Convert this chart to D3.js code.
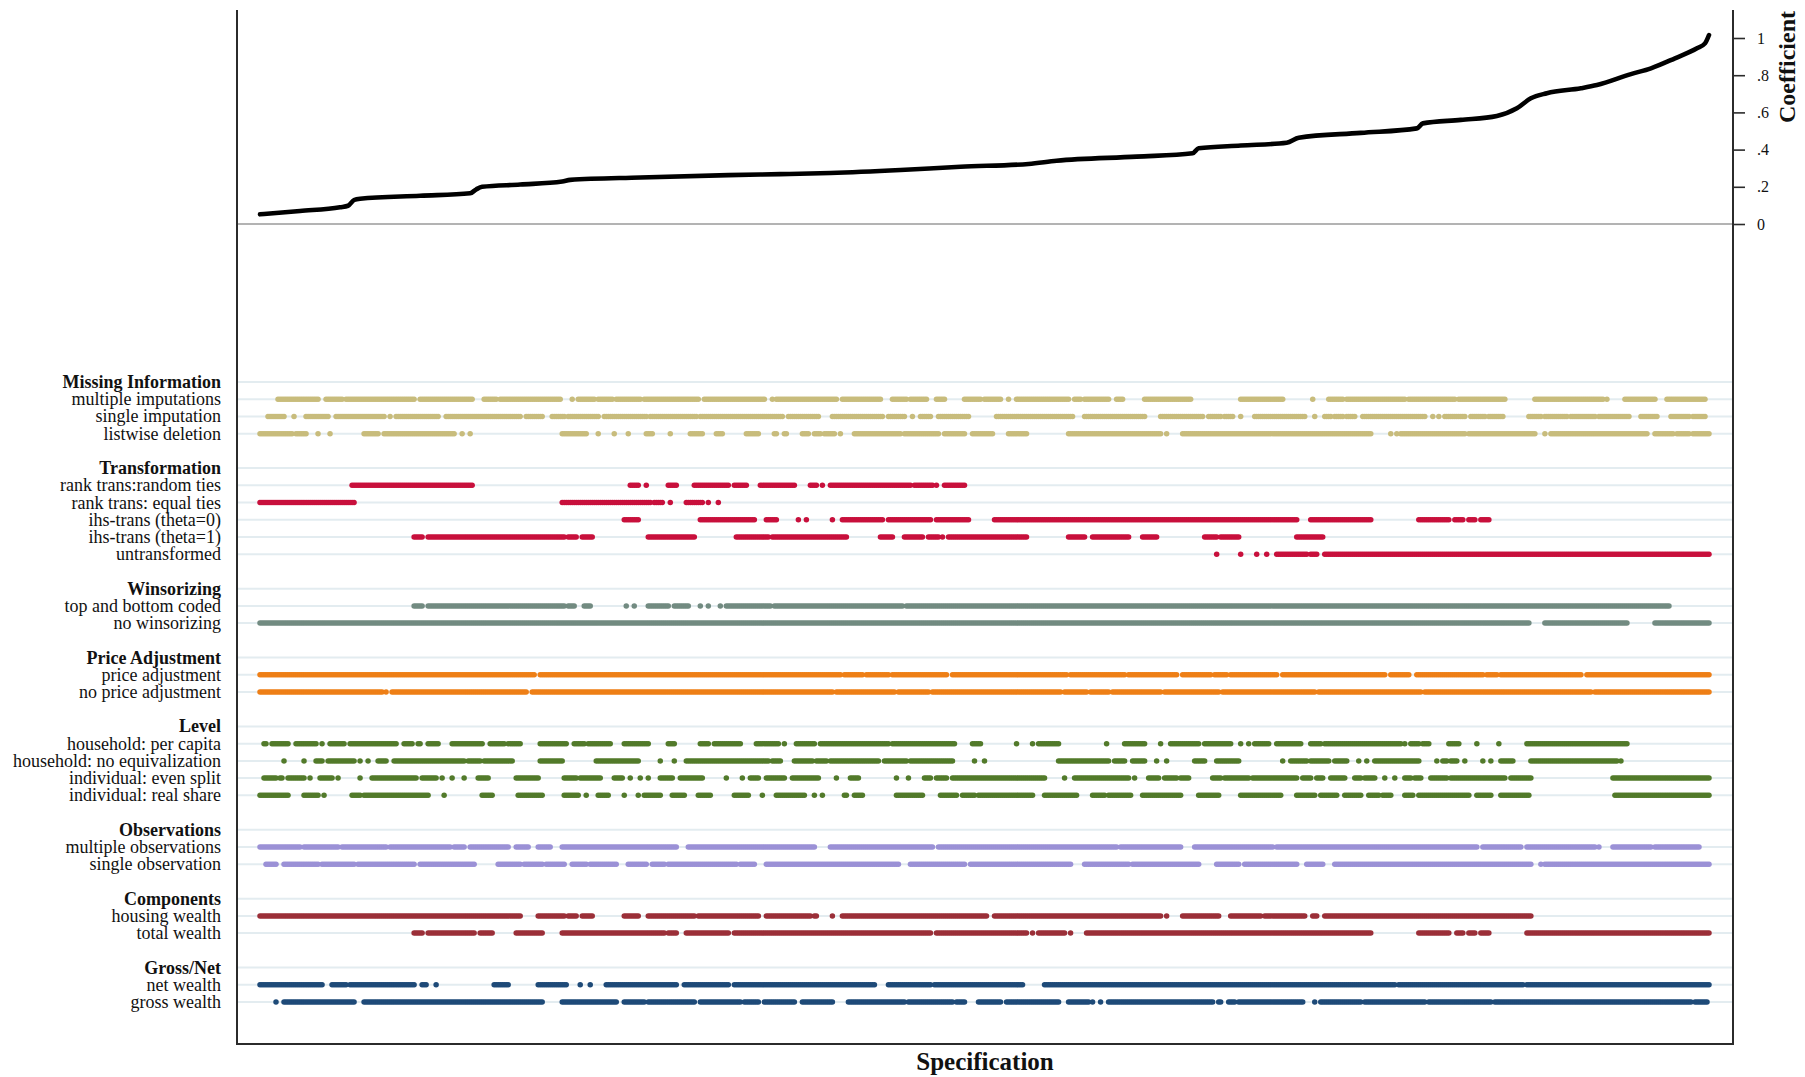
<!DOCTYPE html>
<html>
<head>
<meta charset="utf-8">
<script src="https://cdn.jsdelivr.net/npm/d3@7"></script>
<style>
  html, body { margin: 0; padding: 0; background: #fff; }
  svg { display: block; }
  text { font-family: "Liberation Serif", "Times New Roman", serif; fill: #111; }
</style>
</head>
<body>
<svg id="chart" width="1805" height="1077"></svg>
<script>
// ---------------------------------------------------------------
// Specification curve: estimated coefficient for each specification,
// sorted by size, with the analytic choices behind each one below.
// ---------------------------------------------------------------

const specCount = 725;

// coefficient curve, read at selected ranks of the sorted specifications
const specRank = [0, 20, 40, 44, 47, 50, 80, 105, 108, 111, 130, 151, 155, 190, 234, 260, 285, 320, 350,
  384, 398, 438, 466, 469, 490, 513, 519, 550, 578, 581, 600, 618, 628, 635, 643, 660, 668, 685, 695,
  707, 718, 722, 724];
const coefficient = [0.052, 0.070, 0.090, 0.098, 0.129, 0.136, 0.152, 0.165, 0.186, 0.200, 0.212, 0.228,
  0.237, 0.250, 0.263, 0.268, 0.274, 0.290, 0.308, 0.323, 0.340, 0.362, 0.380, 0.407, 0.422, 0.437,
  0.464, 0.490, 0.514, 0.541, 0.560, 0.581, 0.622, 0.676, 0.703, 0.730, 0.747, 0.806, 0.837, 0.891,
  0.945, 0.971, 1.016];

const coefTicks = [0, 0.2, 0.4, 0.6, 0.8, 1];

// group titles
const groupNames = ["Missing Information", "Transformation", "Winsorizing", "Price Adjustment",
  "Level", "Observations", "Components", "Gross/Net"];

// choices within each group; runs are [first, last] specification ranks using that choice
const missingLabels = ["multiple imputations", "single imputation", "listwise deletion"];
const missingRuns = [
  [[9,29],[33,41],[43,77],[80,106],[112,118],[120,150],[156,156],[159,167],[169,176],[178,190],[192,219],[222,252],[256,256],[258,288],[291,310],[316,323],[325,333],[338,342],[352,360],[362,370],[374,374],[378,404],[407,410],[412,424],[428,431],[442,465],[490,511],[526,526],[534,541],[543,572],[574,597],[599,622],[637,671],[673,673],[682,697],[703,722]],
  [[4,12],[17,17],[23,34],[38,62],[65,65],[68,89],[93,116],[117,130],[133,141],[146,152],[154,169],[172,193],[195,218],[220,247],[248,261],[264,279],[286,311],[314,322],[326,326],[330,335],[339,354],[368,375],[376,392],[393,406],[412,442],[450,471],[474,480],[482,486],[490,490],[497,522],[527,527],[532,535],[537,541],[543,547],[551,582],[586,586],[589,589],[592,602],[605,612],[614,621],[634,640],[642,653],[655,667],[669,684],[690,698],[705,714],[716,722]],
  [[0,9],[10,16],[18,23],[29,29],[35,35],[52,59],[62,71],[72,97],[101,101],[105,105],[151,163],[169,169],[177,177],[184,184],[193,196],[205,205],[215,221],[228,231],[243,249],[257,258],[262,263],[271,274],[277,280],[282,287],[290,290],[297,320],[322,339],[342,352],[356,366],[374,383],[404,414],[415,437],[438,450],[453,453],[461,502],[503,555],[565,565],[568,568],[570,602],[604,617],[618,637],[642,642],[645,658],[659,693],[697,706],[708,714],[716,724]]
];

const transformLabels = ["rank trans:random ties", "rank trans: equal ties", "ihs-trans (theta=0)",
  "ihs-trans (theta=1)", "untransformed"];
const transformRuns = [
  [[46,106],[185,189],[193,193],[204,208],[217,234],[237,243],[250,267],[275,278],[281,281],[285,291],[292,320],[321,325],[327,336],[338,338],[342,352]],
  [[0,47],[151,195],[197,201],[205,205],[213,221],[224,224],[229,229]],
  [[182,189],[220,241],[242,247],[253,258],[269,269],[273,273],[286,286],[291,311],[314,323],[324,335],[338,354],[367,518],[525,555],[579,594],[597,601],[604,607],[610,614]],
  [[77,81],[84,152],[154,158],[161,166],[194,205],[206,217],[238,254],[256,293],[310,316],[322,331],[334,339],[341,341],[344,352],[353,378],[379,383],[404,412],[416,434],[441,448],[472,478],[480,489],[518,531]],
  [[478,478],[490,490],[498,498],[503,503],[508,523],[525,528],[532,724]]
];

const winsorLabels = ["top and bottom coded", "no winsorizing"];
const winsorRuns = [
  [[77,81],[84,152],[154,157],[162,165],[183,183],[187,187],[194,204],[207,214],[220,220],[224,224],[230,230],[233,255],[257,297],[298,321],[323,333],[334,569],[570,649],[650,704]],
  [[0,634],[642,683],[697,724]]
];

const priceLabels = ["price adjustment", "no price adjustment"];
const priceRuns = [
  [[0,137],[140,290],[292,301],[303,314],[316,343],[346,373],[374,397],[398,403],[405,432],[434,440],[441,458],[461,467],[468,475],[477,483],[485,501],[502,508],[511,562],[565,574],[578,611],[613,618],[620,660],[663,724]],
  [[0,61],[63,63],[66,85],[86,133],[136,249],[250,266],[267,280],[281,286],[288,317],[319,334],[336,400],[402,413],[415,424],[426,450],[452,472],[473,479],[481,493],[494,507],[508,527],[529,546],[547,580],[582,607],[608,665],[667,724]]
];

const levelLabels = ["household: per capita", "household: no equivalization", "individual: even split",
  "individual: real share"];
const levelRuns = [
  [[2,3],[6,14],[18,28],[31,31],[35,42],[45,68],[72,76],[79,80],[84,89],[96,111],[115,122],[124,130],[140,153],[157,162],[164,175],[182,194],[204,207],[220,224],[227,240],[248,259],[262,262],[268,277],[280,293],[294,314],[316,347],[356,360],[378,378],[386,386],[389,399],[423,423],[432,442],[450,450],[455,469],[472,485],[490,490],[494,494],[497,504],[508,520],[525,530],[532,561],[562,566],[567,570],[572,572],[575,579],[581,584],[594,599],[608,608],[619,619],[633,683]],
  [[12,12],[22,22],[28,31],[34,47],[50,50],[54,54],[59,63],[67,102],[104,110],[112,117],[118,126],[140,151],[168,189],[200,200],[207,207],[213,254],[256,260],[267,276],[278,283],[285,309],[312,323],[325,346],[357,357],[362,362],[399,424],[427,432],[436,442],[448,448],[453,453],[467,472],[478,489],[511,511],[515,523],[525,534],[537,543],[549,549],[553,553],[557,579],[588,588],[591,593],[595,598],[602,602],[611,611],[615,615],[620,626],[635,678],[680,680]],
  [[2,8],[10,11],[14,22],[25,25],[30,36],[39,39],[50,50],[56,78],[81,88],[91,91],[96,96],[102,102],[109,114],[128,139],[152,158],[160,170],[177,181],[185,185],[190,190],[194,194],[200,206],[210,221],[233,233],[241,241],[245,249],[253,262],[266,279],[288,288],[295,299],[318,318],[324,324],[332,335],[338,343],[346,392],[402,402],[407,434],[437,437],[444,449],[452,458],[460,464],[476,480],[482,494],[496,500],[501,518],[521,525],[528,531],[535,542],[547,550],[552,557],[562,562],[567,567],[572,575],[577,580],[585,593],[595,622],[625,635],[676,679],[680,703],[704,724]],
  [[0,14],[22,29],[32,32],[46,50],[52,64],[65,76],[77,84],[92,92],[111,116],[129,141],[152,159],[163,163],[169,174],[182,182],[189,189],[192,200],[206,212],[219,225],[237,244],[251,251],[258,272],[277,277],[281,281],[292,293],[297,301],[318,331],[340,348],[351,357],[359,386],[392,408],[416,422],[424,435],[441,460],[469,479],[490,510],[518,527],[530,538],[542,550],[554,559],[561,565],[572,576],[579,604],[608,615],[620,634],[677,724]]
];

const obsLabels = ["multiple observations", "single observation"];
const obsRuns = [
  [[0,20],[22,39],[41,63],[65,95],[97,102],[105,124],[128,134],[139,145],[151,190],[191,208],[214,277],[285,336],[339,381],[382,398],[399,428],[430,460],[467,506],[508,608],[611,630],[633,667],[669,669],[676,695],[697,719]],
  [[3,8],[12,29],[31,47],[49,77],[80,107],[119,130],[132,141],[143,152],[156,163],[165,178],[184,193],[196,202],[204,234],[235,238],[240,247],[253,307],[308,319],[325,352],[355,405],[412,423],[424,434],[436,469],[478,489],[492,518],[523,531],[537,572],[573,579],[580,590],[591,635],[640,640],[642,658],[659,683],[684,724]]
];

const compLabels = ["housing wealth", "total wealth"];
const compRuns = [
  [[0,130],[139,152],[154,158],[161,166],[182,189],[194,205],[206,217],[219,249],[253,275],[277,278],[286,286],[291,363],[367,450],[453,453],[461,479],[485,500],[502,522],[526,528],[532,635]],
  [[77,81],[84,107],[110,116],[128,141],[151,196],[197,202],[204,208],[213,234],[237,335],[338,383],[386,386],[389,402],[405,405],[413,517],[518,555],[579,594],[598,601],[604,607],[610,614],[633,724]]
];

const grossNetLabels = ["net wealth", "gross wealth"];
const grossNetRuns = [
  [[0,31],[36,43],[45,77],[81,83],[88,88],[117,124],[139,153],[160,160],[165,165],[173,208],[212,234],[237,244],[245,307],[314,335],[337,381],[392,535],[536,547],[548,567],[569,631],[633,724]],
  [[8,8],[12,47],[52,141],[151,178],[182,192],[194,205],[206,217],[220,240],[242,249],[252,267],[271,286],[294,322],[324,346],[348,352],[359,370],[373,399],[404,414],[416,416],[420,420],[424,476],[479,480],[484,487],[489,508],[509,521],[527,527],[530,538],[539,550],[552,582],[584,615],[617,715],[717,723]]
];

// ---------------------------------------------------------------
// styling
// ---------------------------------------------------------------
const groupColors = ["#c8bc7c", "#c8103c", "#728b81", "#ee7f16", "#527a2a", "#9b91d6", "#9b2f38", "#1e4a78"];

const groupLabels = [missingLabels, transformLabels, winsorLabels, priceLabels, levelLabels, obsLabels, compLabels, grossNetLabels];
const groupRuns = [missingRuns, transformRuns, winsorRuns, priceRuns, levelRuns, obsRuns, compRuns, grossNetRuns];

const frame = { left: 237, right: 1733, top: 10, bottom: 1044 };
const svg = d3.select("#chart");

const x = d3.scaleLinear().domain([0, specCount - 1]).range([260, 1709]);
const y = d3.scaleLinear().domain([0, 1]).range([224, 38]);

// one slot per header / choice row, with an empty slot between groups
const slots = [];
groupNames.forEach((name, gi) => {
  slots.push({ kind: "header", label: name });
  groupLabels[gi].forEach((lab, li) => {
    slots.push({ kind: "item", label: lab, runs: groupRuns[gi][li], color: groupColors[gi] });
  });
  if (gi < groupNames.length - 1) slots.push({ kind: "blank" });
});
slots.forEach((s, i) => s.index = i);

const yRow = d3.scalePoint().domain(d3.range(slots.length)).range([382, 1002]);

// row guide lines
svg.append("g")
  .selectAll("line")
  .data(slots.filter(s => s.kind !== "blank"))
  .join("line")
  .attr("x1", frame.left).attr("x2", frame.right)
  .attr("y1", s => yRow(s.index)).attr("y2", s => yRow(s.index))
  .attr("stroke", "#e3ecf0").attr("stroke-width", 2);

// zero reference line of the coefficient panel
svg.append("line")
  .attr("x1", frame.left).attr("x2", frame.right)
  .attr("y1", y(0)).attr("y2", y(0))
  .attr("stroke", "#9a9a9a").attr("stroke-width", 1.6);

// indicator dots: one per specification that uses the choice
const dotRows = svg.append("g");
slots.filter(s => s.kind === "item").forEach(s => {
  const ranks = [];
  s.runs.forEach(([a, b]) => { for (let k = a; k <= b; k++) ranks.push(k); });
  dotRows.append("g")
    .attr("fill", s.color)
    .selectAll("circle")
    .data(ranks)
    .join("circle")
    .attr("cx", d => x(d))
    .attr("cy", yRow(s.index))
    .attr("r", 2.75);
});

// coefficient curve
const curveData = specRank.map((r, i) => [r, coefficient[i]]);
svg.append("path")
  .datum(curveData)
  .attr("fill", "none")
  .attr("stroke", "#000")
  .attr("stroke-width", 4.6)
  .attr("stroke-linejoin", "round")
  .attr("stroke-linecap", "round")
  .attr("d", d3.line().curve(d3.curveMonotoneX).x(d => x(d[0])).y(d => y(d[1])));

// frame
const frameColor = "#2b2b2b";
svg.append("line").attr("x1", frame.left).attr("x2", frame.left)
  .attr("y1", frame.top).attr("y2", frame.bottom)
  .attr("stroke", frameColor).attr("stroke-width", 2);
svg.append("line").attr("x1", frame.left - 1).attr("x2", frame.right + 1)
  .attr("y1", frame.bottom).attr("y2", frame.bottom)
  .attr("stroke", frameColor).attr("stroke-width", 2);
svg.append("line").attr("x1", frame.right).attr("x2", frame.right)
  .attr("y1", frame.top).attr("y2", frame.bottom)
  .attr("stroke", frameColor).attr("stroke-width", 2);

// coefficient axis on the right
const fmt = d => d === 0 ? "0" : d === 1 ? "1" : d3.format(".1f")(d).replace(/^0/, "");
const yAxis = svg.append("g")
  .attr("transform", `translate(${frame.right},0)`)
  .call(d3.axisRight(y).tickValues(coefTicks).tickFormat(fmt).tickSize(12).tickPadding(12));
yAxis.select(".domain").remove();
yAxis.selectAll(".tick line").attr("stroke", frameColor).attr("stroke-width", 1.6);
yAxis.selectAll(".tick text")
  .attr("font-family", "'Liberation Serif', 'Times New Roman', serif")
  .attr("font-size", 16).attr("fill", "#111");

svg.append("text")
  .attr("transform", "translate(1787,67) rotate(-90)")
  .attr("text-anchor", "middle")
  .attr("dominant-baseline", "central")
  .attr("font-weight", "bold")
  .attr("font-size", 24)
  .text("Coefficient");

svg.append("text")
  .attr("x", (frame.left + frame.right) / 2)
  .attr("y", 1061)
  .attr("text-anchor", "middle")
  .attr("dominant-baseline", "central")
  .attr("font-weight", "bold")
  .attr("font-size", 25)
  .text("Specification");

// row labels
svg.append("g")
  .selectAll("text")
  .data(slots.filter(s => s.kind !== "blank"))
  .join("text")
  .attr("x", 221)
  .attr("y", s => yRow(s.index))
  .attr("text-anchor", "end")
  .attr("dominant-baseline", "central")
  .attr("font-size", 18)
  .attr("font-weight", s => s.kind === "header" ? "bold" : "normal")
  .text(s => s.label);
</script>
</body>
</html>
